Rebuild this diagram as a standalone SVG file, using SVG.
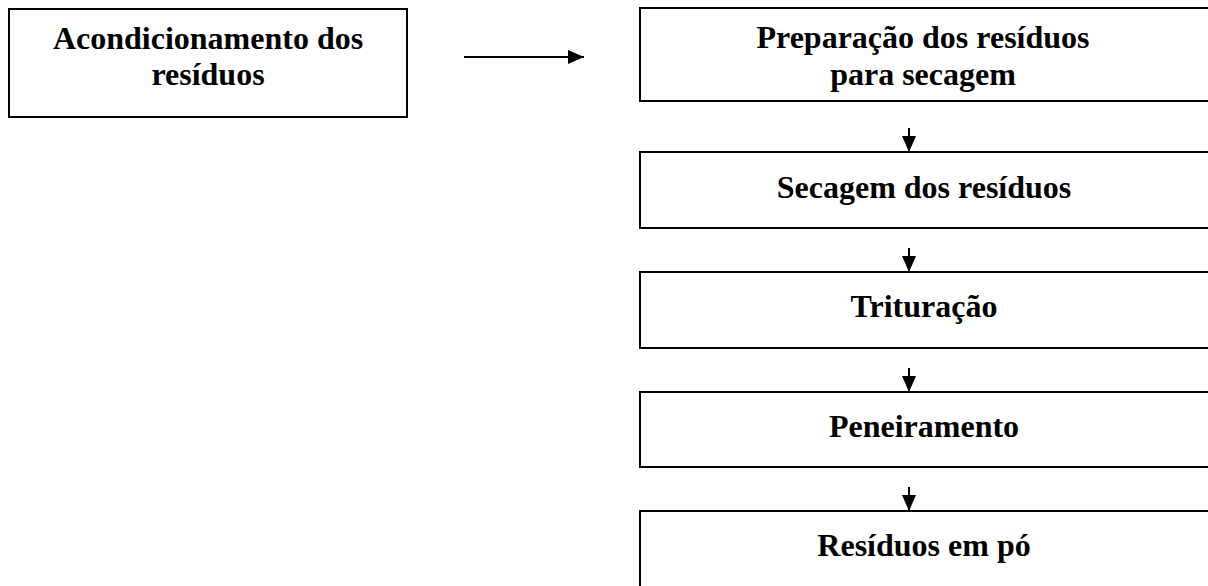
<svg xmlns="http://www.w3.org/2000/svg" width="1208" height="586" viewBox="0 0 1208 586">
  <style>
    .box { fill: #ffffff; stroke: #000000; stroke-width: 2; }
    .lbl { font-family: "Liberation Serif", "Times New Roman", serif; font-weight: bold; font-size: 32px; fill: #000000; text-anchor: middle; }
    .conn { stroke: #000000; stroke-width: 2; fill: none; marker-end: url(#arrow); }
  </style>
  <defs>
    <marker id="arrow" markerUnits="userSpaceOnUse" markerWidth="16" markerHeight="14" refX="16" refY="7" orient="auto">
      <path d="M0,0 L16,7 L0,14 Z" fill="#000000"/>
    </marker>
  </defs>
  <rect width="1208" height="586" fill="#ffffff"/>
  <g id="n-acondicionamento">
    <rect class="box" x="9" y="9" width="398" height="108"/>
    <text class="lbl" x="208" y="49">Acondicionamento dos</text>
    <text class="lbl" x="208" y="85">resíduos</text>
  </g>
  <g id="n-preparacao">
    <rect class="box" x="640" y="8" width="580" height="93"/>
    <text class="lbl" x="923" y="48">Preparação dos resíduos</text>
    <text class="lbl" x="923" y="85">para secagem</text>
  </g>
  <g id="n-secagem">
    <rect class="box" x="640" y="152" width="580" height="76"/>
    <text class="lbl" x="924" y="198">Secagem dos resíduos</text>
  </g>
  <g id="n-trituracao">
    <rect class="box" x="640" y="272" width="580" height="76"/>
    <text class="lbl" x="924" y="317">Trituração</text>
  </g>
  <g id="n-peneiramento">
    <rect class="box" x="640" y="392" width="580" height="75"/>
    <text class="lbl" x="924" y="437">Peneiramento</text>
  </g>
  <g id="n-residuos-po">
    <rect class="box" x="640" y="511" width="580" height="90"/>
    <text class="lbl" x="924" y="556">Resíduos em pó</text>
  </g>
  <g id="connectors">
    <line class="conn" x1="464" y1="57" x2="584" y2="57"/>
    <line class="conn" x1="909" y1="128" x2="909" y2="152"/>
    <line class="conn" x1="909" y1="248" x2="909" y2="272"/>
    <line class="conn" x1="909" y1="368" x2="909" y2="392"/>
    <line class="conn" x1="909" y1="487" x2="909" y2="511"/>
  </g>
</svg>
